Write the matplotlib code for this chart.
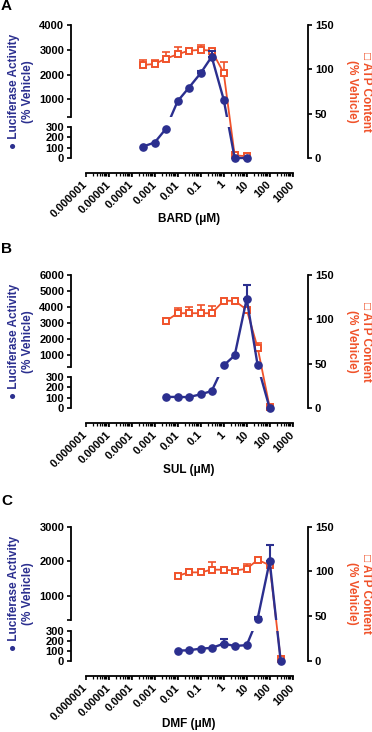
import numpy as np
import matplotlib
matplotlib.use('Agg')
import matplotlib.pyplot as plt
from matplotlib.ticker import LogLocator, NullFormatter

plt.rcParams['font.family'] = ['Liberation Sans', 'DejaVu Sans']
plt.rcParams['font.weight'] = 'bold'
plt.rcParams['axes.linewidth'] = 1.3

BLUE = '#2B2F8F'
RED = '#F0522A'

# ---------------- data ----------------
x_ticks = [1e-6, 1e-5, 1e-4, 1e-3, 1e-2, 1e-1, 1, 10, 100, 1000]
x_tick_labels = ['0.000001', '0.00001', '0.0001', '0.001', '0.01', '0.1',
                 '1', '10', '100', '1000']
low_ticks = [0, 100, 200, 300]
atp_ticks = [0, 50, 100, 150]

bard_conc = [0.0003, 0.001, 0.003, 0.01, 0.03, 0.1, 0.3, 1, 3, 10]
bard_luc = [110, 150, 280, 930, 1460, 2060, 2720, 990, 0, 0]
bard_luc_err = [0, 0, 0, 0, 0, 80, 230, 0, 0, 0]
bard_atp = [105, 106, 112, 117, 121, 122, 121, 96, 3, 2]
bard_atp_err = [6, 5, 8, 8, 0, 5, 2, 12, 0, 0]
bard_upper_ticks = [1000, 2000, 3000, 4000]

sul_conc = [0.003, 0.01, 0.03, 0.1, 0.3, 1, 3, 10, 30, 100]
sul_luc = [108, 108, 106, 133, 164, 380, 1000, 4520, 380, 0]
sul_luc_err = [0, 0, 0, 0, 0, 0, 0, 880, 0, 0]
sul_atp = [98, 107, 107, 107, 107, 121, 121, 111, 68, 1]
sul_atp_err = [0, 6, 7, 9, 8, 0, 0, 0, 6, 0]
sul_upper_ticks = [1000, 2000, 3000, 4000, 5000, 6000]

dmf_conc = [0.01, 0.03, 0.1, 0.3, 1, 3, 10, 30, 100, 300]
dmf_luc = [105, 108, 125, 132, 175, 152, 160, 340, 2000, 0]
dmf_luc_err = [0, 0, 0, 0, 45, 0, 0, 40, 480, 0]
dmf_atp = [95, 99, 99, 102, 102, 101, 103, 113, 107, 2]
dmf_atp_err = [0, 4, 0, 9, 0, 0, 5, 0, 0, 0]
dmf_upper_ticks = [1000, 2000, 3000]

# ---------------- layout ----------------
W, H = 372, 732
fig = plt.figure(figsize=(W / 100, H / 100), dpi=100)
XL, XR = 85.7, 292.7
OFF = 15 * 0.72  # 15 px in points


def rect(x0, ytop, x1, ybot):
    return [x0 / W, 1 - ybot / H, (x1 - x0) / W, (ybot - ytop) / H]


def make_scale(G, k):
    def fwd(y):
        y = np.asarray(y, dtype=float)
        return np.where(y <= 300, y, 300 + G + (y - 300) * k)

    def inv(s):
        s = np.asarray(s, dtype=float)
        return np.where(s <= 300, s,
                        np.where(s < 300 + G, 300, 300 + (s - 300 - G) / k))
    return fwd, inv


def style_x(ax):
    ax.set_xscale('log')
    ax.set_xlim(1e-6, 1e3)


def draw_panel(letter, letter_y, conc, luc, luc_err, atp, atp_err, name,
               upper_ticks, y0, yl, yu, yt, xlabel_y):
    T = upper_ticks[-1]
    lower_ppu = (y0 - yl) / 300.0
    G = (yl - yu) / lower_ppu
    k = ((yu - yt) / (T - 300.0)) / lower_ppu
    fwd, inv = make_scale(G, k)
    ext = 5

    conc = np.asarray(conc, float)
    luc = np.asarray(luc, float)
    luc_err = np.asarray(luc_err, float)
    atp = np.asarray(atp, float)
    atp_err = np.asarray(atp_err, float)

    # right axis (ATP) + x axis
    ax_r = fig.add_axes(rect(XL, yt, XR, y0))
    ax_r.patch.set_visible(False)
    style_x(ax_r)
    ax_r.set_ylim(0, 150)
    ax_r.spines['left'].set_visible(False)
    ax_r.spines['top'].set_visible(False)
    ax_r.spines['right'].set_position(('outward', OFF))
    ax_r.spines['bottom'].set_position(('outward', OFF))
    ax_r.yaxis.tick_right()
    ax_r.set_yticks(atp_ticks)
    ax_r.set_xticks(x_ticks)
    ax_r.set_xticklabels(x_tick_labels, rotation=45, ha='right', va='center',
                         rotation_mode='anchor')
    ax_r.xaxis.set_minor_locator(LogLocator(base=10, subs=np.arange(2, 10), numticks=20))
    ax_r.xaxis.set_minor_formatter(NullFormatter())
    ax_r.tick_params(axis='both', which='major', length=3.2, width=1.2,
                     labelsize=8, pad=2)
    ax_r.tick_params(axis='x', which='minor', length=1.8, width=0.9)
    ax_r.tick_params(axis='x', which='major', pad=4)
    for t in ax_r.get_xticklabels() + ax_r.get_yticklabels():
        t.set_fontweight('bold')

    m = atp_err > 0
    ax_r.errorbar(conc[m], atp[m], yerr=[np.zeros(m.sum()), atp_err[m]], fmt='none',
                  ecolor=RED, elinewidth=1.2, capsize=2.6, capthick=1.2,
                  clip_on=False, zorder=2)
    ax_r.plot(conc, atp, '-s', color=RED, mfc='white', mec=RED, ms=5, mew=1.4,
              lw=1.3, clip_on=False, zorder=3)

    # lower luciferase segment (0-300)
    ax_lo = fig.add_axes(rect(XL, yl, XR, y0 + ext))
    ax_lo.patch.set_visible(False)
    style_x(ax_lo)
    ax_lo.set_yscale('function', functions=(fwd, inv))
    ax_lo.set_ylim(-ext / lower_ppu, 300)
    for s in ['top', 'right', 'bottom']:
        ax_lo.spines[s].set_visible(False)
    ax_lo.spines['left'].set_position(('outward', OFF))
    ax_lo.spines['left'].set_bounds(0, 300)
    ax_lo.set_xticks([])
    ax_lo.set_xticks([], minor=True)
    ax_lo.set_yticks(low_ticks)
    ax_lo.set_yticks([], minor=True)
    ax_lo.tick_params(axis='y', length=3.2, width=1.2, labelsize=8, pad=1.5)
    ax_lo.plot(conc, luc, '-', color=BLUE, lw=1.7, solid_capstyle='butt')

    # upper luciferase segment (300-T)
    ax_up = fig.add_axes(rect(XL, yt, XR, yu))
    ax_up.patch.set_visible(False)
    style_x(ax_up)
    ax_up.set_yscale('function', functions=(fwd, inv))
    ax_up.set_ylim(300.001, T)
    for s in ['top', 'right', 'bottom']:
        ax_up.spines[s].set_visible(False)
    ax_up.spines['left'].set_position(('outward', OFF))
    ax_up.set_xticks([])
    ax_up.set_xticks([], minor=True)
    ax_up.set_yticks(upper_ticks)
    ax_up.set_yticks([300.001], minor=True)
    ax_up.tick_params(axis='y', which='both', length=3.2, width=1.2,
                      labelsize=8, pad=1.5)
    ax_up.plot(conc, luc, '-', color=BLUE, lw=1.7, solid_capstyle='butt')
    for ax in (ax_lo, ax_up):
        for t in ax.get_yticklabels():
            t.set_fontweight('bold')

    # markers and error bars across full height
    ax_f = fig.add_axes(rect(XL, yt, XR, y0))
    ax_f.patch.set_visible(False)
    style_x(ax_f)
    ax_f.set_yscale('function', functions=(fwd, inv))
    ax_f.set_ylim(0, T)
    ax_f.axis('off')
    mb = luc_err > 0
    ax_f.errorbar(conc[mb], luc[mb], yerr=[np.zeros(mb.sum()), luc_err[mb]],
                  fmt='none', ecolor=BLUE, elinewidth=1.5, capsize=3.2,
                  capthick=1.5, clip_on=False)
    ax_f.plot(conc, luc, 'o', color=BLUE, ms=5.2, clip_on=False)

    # labels
    yc = 1 - ((yt + y0) / 2) / H
    fig.text(21 / W, yc, '\u25CF Luciferase Activity\n(% Vehicle)', rotation=90,
             ha='center', va='center', color=BLUE, fontsize=8.5,
             fontweight='bold', linespacing=1.3, multialignment='center')
    fig.text(359 / W, yc, '\u25A1 ATP Content\n(% Vehicle)', rotation=270,
             ha='center', va='center', color=RED, fontsize=8.5,
             fontweight='bold', linespacing=1.3, multialignment='center')
    fig.text((XL + XR) / 2 / W, 1 - xlabel_y / H, name + ' (\u03BCM)',
             ha='center', va='center', fontsize=8.5, fontweight='bold')
    fig.text(1 / W, 1 - letter_y / H, letter, ha='left', va='center',
             fontsize=11, fontweight='bold')


draw_panel('A', 6, bard_conc, bard_luc, bard_luc_err, bard_atp, bard_atp_err,
           'BARD', bard_upper_ticks, 158, 127, 116.7, 25, 219)
draw_panel('B', 249, sul_conc, sul_luc, sul_luc_err, sul_atp, sul_atp_err,
           'SUL', sul_upper_ticks, 408.3, 376.7, 366.7, 275, 470)
draw_panel('C', 501, dmf_conc, dmf_luc, dmf_luc_err, dmf_atp, dmf_atp_err,
           'DMF', dmf_upper_ticks, 661, 631.3, 620, 526.7, 724)

fig.savefig('out.png', dpi=100)
